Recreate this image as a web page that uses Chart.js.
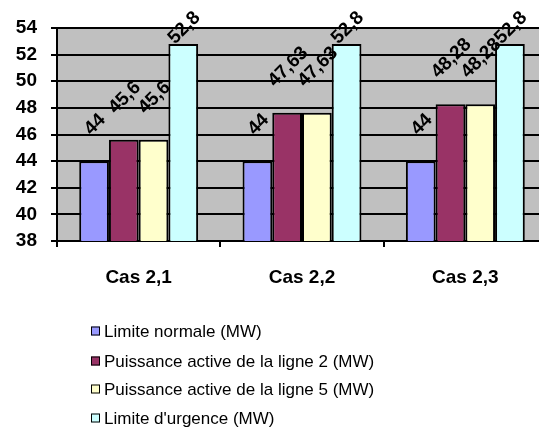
<!DOCTYPE html>
<html>
<head>
<meta charset="utf-8">
<script src="https://cdn.jsdelivr.net/npm/chart.js@4/dist/chart.umd.min.js"></script>
<style>
	html, body { margin:0; padding:0; background:#fff; overflow:hidden; }
	#myChart { display:block; }
</style>
</head>
<body>
<canvas id="myChart" width="550" height="448"></canvas>
<script>
var categories = ['Cas 2,1', 'Cas 2,2', 'Cas 2,3'];
var seriesNames = ['Limite normale (MW)', 'Puissance active de la ligne 2 (MW)', 'Puissance active de la ligne 5 (MW)', "Limite d'urgence (MW)"];
var limiteNormale = [44, 44, 44];
var puissanceLigne2 = [45.6, 47.63, 48.28];
var puissanceLigne5 = [45.6, 47.63, 48.28];
var limiteUrgence = [52.8, 52.8, 52.8];
var seriesColors = ['#9999FF', '#993366', '#FFFFCC', '#CCFFFF'];
var yMin = 38;
var yMax = 54;
var yStep = 2;

var FONT = '"Liberation Sans", Arial, sans-serif';

function _fmt(v) {
	return String(v).replace('.', ',');
}

// fond gris de la zone de tracé
var plotBgPlugin = {
	id: 'plotBg',
	beforeDraw: function(chart) {
		var a = chart.chartArea;
		var ctx = chart.ctx;
		ctx.save();
		ctx.fillStyle = '#C0C0C0';
		ctx.fillRect(a.left, a.top, a.right - a.left, a.bottom - a.top);
		ctx.restore();
	}
};

// étiquettes de valeurs inclinées
var valueLabelPlugin = {
	id: 'valueLabels',
	afterDatasetsDraw: function(chart) {
		var ctx = chart.ctx;
		ctx.save();
		ctx.font = 'bold 19px ' + FONT;
		ctx.fillStyle = '#000';
		ctx.textAlign = 'center';
		ctx.textBaseline = 'middle';
		chart.data.datasets.forEach(function(ds, i) {
			var meta = chart.getDatasetMeta(i);
			meta.data.forEach(function(bar, j) {
				var txt = _fmt(ds.data[j]);
				var w = ctx.measureText(txt).width;
				var half = w / 2 * 0.707;
				var cy = bar.y - 29 - half;
				var ext = (w + 14) / 2 * 0.707;
				if (cy < 10 + ext) {
					cy = 10 + ext;
				}
				ctx.save();
				ctx.translate(bar.x + 1, cy);
				ctx.rotate(-Math.PI / 4);
				ctx.fillText(txt, 0, 0);
				ctx.restore();
			});
		});
		ctx.restore();
	}
};

// légende verticale sous le graphique
var legendPlugin = {
	id: 'vLegend',
	afterDraw: function(chart) {
		var ctx = chart.ctx;
		var rows = [331, 361, 389, 418];
		ctx.save();
		ctx.font = '17px ' + FONT;
		ctx.textAlign = 'left';
		ctx.textBaseline = 'middle';
		chart.data.datasets.forEach(function(ds, i) {
			var y = rows[i];
			ctx.fillStyle = ds.backgroundColor;
			ctx.fillRect(91, y - 4.5, 9, 9);
			ctx.strokeStyle = '#000';
			ctx.lineWidth = 1;
			ctx.strokeRect(91.5, y - 4, 8, 8);
			ctx.fillStyle = '#000';
			ctx.fillText(ds.label, 104, y + 1);
		});
		ctx.restore();
	}
};

var datasetValues = [limiteNormale, puissanceLigne2, puissanceLigne5, limiteUrgence];
var _datasets = [];
datasetValues.forEach(function(values, i) {
	_datasets.push({
		label: seriesNames[i],
		data: values,
		backgroundColor: seriesColors[i],
		borderColor: '#000',
		borderWidth: 2,
		borderSkipped: 'bottom',
		categoryPercentage: 0.728,
		barPercentage: 1.0
	});
});

var _config = {
	type: 'bar',
	data: {
		labels: categories,
		datasets: _datasets
	},
	options: {
		responsive: false,
		animation: false,
		layout: {
			padding: { top: 28, right: 3, bottom: 0, left: 0 }
		},
		plugins: {
			legend: { display: false },
			tooltip: { enabled: false }
		},
		scales: {
			x: {
				offset: true,
				afterFit: function(scale) {
					scale.height = 207;
				},
				grid: {
					offset: true,
					drawOnChartArea: false,
					drawTicks: true,
					tickLength: 6,
					color: '#000',
					lineWidth: 2
				},
				border: { color: '#000', width: 2 },
				ticks: {
					color: '#000',
					padding: 19,
					font: { family: FONT, size: 19, weight: 'bold' }
				}
			},
			y: {
				min: yMin,
				max: yMax,
				afterFit: function(scale) {
					scale.width = 57;
				},
				grid: {
					color: '#000',
					lineWidth: 2,
					tickLength: 6
				},
				border: { color: '#000', width: 2 },
				ticks: {
					stepSize: yStep,
					color: '#000',
					padding: 14,
					font: { family: FONT, size: 19, weight: 'bold' }
				}
			}
		}
	},
	plugins: [plotBgPlugin, valueLabelPlugin, legendPlugin]
};

var myChart = new Chart(document.getElementById('myChart'), _config);
</script>
</body>
</html>
